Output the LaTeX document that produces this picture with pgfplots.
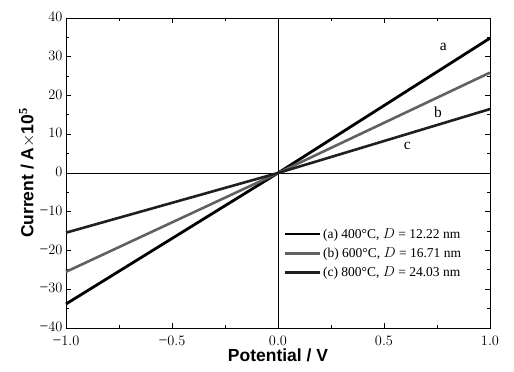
\documentclass[border=0pt]{standalone}
\usepackage{pgfplots}
\pgfplotsset{compat=1.18}
\usepackage{fontspec}
\setmainfont{Liberation Serif}
\setsansfont{Liberation Sans}
\newcommand{\mytick}[2]{\pgfmathsetmacro\myabs{abs(#1)}\pgfmathparse{#1<0?1:0}\ifnum\pgfmathresult=1 −\fi\pgfmathprintnumber[#2]{\myabs}}
\begin{document}
\begin{tikzpicture}
\begin{axis}[
  scale only axis,
  width=424pt, height=310pt,
  xmin=-1, xmax=1, ymin=-40, ymax=40,
  xtick={-1,-0.5,0,0.5,1},
  ytick={-40,-30,...,40},
  minor x tick num=1,
  minor y tick num=1,
  tick align=inside,
  tick style={black, line width=0.8pt},
  major tick length=5pt, minor tick length=3pt,
  axis line style={black, line width=0.9pt},
  xticklabel style={font=\fontsize{15.5}{15.5}\selectfont, yshift=-5pt},
  yticklabel style={font=\fontsize{15.5}{15.5}\selectfont, yshift=1pt},
  xticklabel={\mytick{\tick}{fixed,fixed zerofill,precision=1}},
  yticklabel={\mytick{\tick}{fixed,precision=0}},
  xlabel={\sffamily\bfseries Potential / V},
  ylabel={\sffamily\bfseries Current / A{\mdseries$\times$}10$^{\mathbf{5}}$},
  label style={font=\fontsize{17.5}{17.5}\selectfont},
  xlabel style={yshift=4pt},
  ylabel style={yshift=-2pt},
  legend style={draw=none, fill=none, at={(0.505,0.335)}, anchor=north west,
    font=\fontsize{13.5}{13.5}\selectfont, row sep=4pt,
    /tikz/every even column/.append style={column sep=0pt}},
  legend cell align=left,
  legend image code/.code={\draw[#1] (0pt,0pt) -- (35pt,0pt);},
  clip=false,
]
\path (rel axis cs:0,0) ++(-66pt,-44pt) coordinate (bbA);
\path (rel axis cs:1,1) ++(24pt,18pt) coordinate (bbB);
\path (bbA) rectangle (bbB);
\draw[black, line width=0.9pt] (axis cs:0,-40) -- (axis cs:0,40);
\draw[black, line width=0.9pt] (axis cs:-1,0) -- (axis cs:1,0);
\addplot[black, line width=2.8pt] coordinates {(-1,-33.8) (0,0) (1,34.8)};
\addlegendentry{(a) 400°C, $D$ = 12.22 nm}
\addplot[black!62, line width=2.6pt] coordinates {(-1,-25.5) (0,0) (1,25.9)};
\addlegendentry{(b) 600°C, $D$ = 16.71 nm}
\addplot[black!88, line width=2.6pt] coordinates {(-1,-15.4) (0,0) (1,16.5)};
\addlegendentry{(c) 800°C, $D$ = 24.03 nm}
\node[font=\fontsize{15.5}{15.5}\selectfont] at (axis cs:0.78,32.5) {a};
\node[font=\fontsize{15.5}{15.5}\selectfont] at (axis cs:0.755,15.7) {b};
\node[font=\fontsize{15.5}{15.5}\selectfont] at (axis cs:0.61,7.0) {c};
\end{axis}
\end{tikzpicture}
\end{document}
